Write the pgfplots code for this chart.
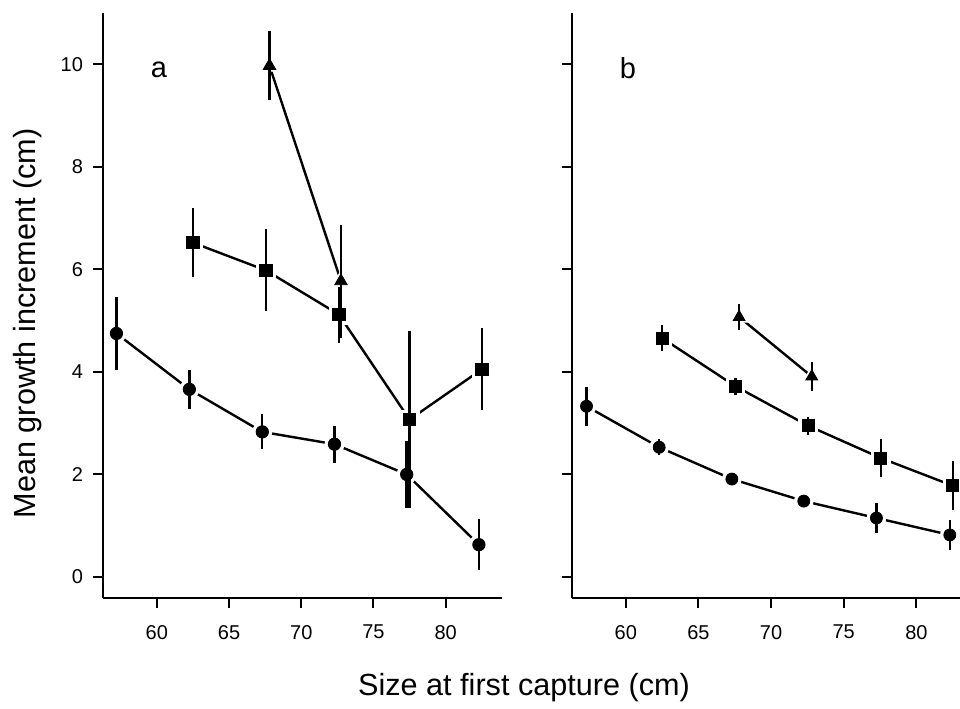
\documentclass[border=0pt]{standalone}
\usepackage{fontspec}
\setmainfont{Liberation Sans}
\usepackage{pgfplots}
\usepackage{pgfplotstable}
\pgfplotsset{compat=1.18}

% columns: size, mean increment, error
\pgfplotstableread{
x y e
57.2 4.75 0.72
62.25 3.66 0.38
67.3 2.83 0.34
72.3 2.59 0.36
77.3 2.00 0.65
82.3 0.63 0.50
}\acirc
\pgfplotstableread{
x y e
62.5 6.52 0.67
67.55 5.98 0.80
72.6 5.12 0.55
77.5 3.07 1.72
82.5 4.05 0.80
}\asq
\pgfplotstableread{
x y e
67.8 9.97 0.67
72.75 5.77 1.10
}\atri
\pgfplotstableread{
x y e
57.3 3.33 0.38
62.3 2.53 0.16
67.3 1.91 0.07
72.25 1.48 0.07
77.25 1.15 0.29
82.3 0.82 0.29
}\bcirc
\pgfplotstableread{
x y e
62.5 4.66 0.26
67.55 3.72 0.17
72.55 2.95 0.18
77.55 2.32 0.37
82.5 1.78 0.48
}\bsq
\pgfplotstableread{
x y e
67.8 5.07 0.25
72.8 3.91 0.29
}\btri

% line, white halo, then error bars and black marks
\newcommand{\series}[3]{%
  \addplot[black, line width=1.2pt, mark=none] table[x=x,y=y]{#1};
  \addplot[white, only marks, mark=#2, mark size=#3+1.7pt, mark options={fill=white, draw=white}] table[x=x,y=y]{#1};
  \addplot[black, only marks, mark=#2, mark size=#3, mark options={fill=black, draw=black, line width=0.4pt},
    error bars/.cd, y dir=both, y explicit, error mark=none,
    error bar style={line width=1.2pt, black}] table[x=x,y=y,y error=e]{#1};
}

\pgfplotsset{
  panel/.style={
    scale only axis, height=292.5pt,
    anchor=south west,
    axis x line*=bottom, axis y line*=left,
    axis line style={line width=1.2pt, -},
    tick align=outside, major tick length=5pt,
    tick style={line width=1pt, black},
    ymin=-0.41, ymax=11.0,
    ytick={0,2,4,6,8,10}, xtick={60,65,70,75,80},
    tick label style={font=\fontsize{10}{12}\selectfont},
    /pgf/number format/assume math mode=true,
    xticklabel style={yshift=-5pt},
    yticklabel style={xshift=-1.5pt},
    clip=false, clip mode=individual,
  }
}

\begin{document}
\begin{tikzpicture}
\useasboundingbox (0,0) rectangle (480pt,354pt);

\begin{axis}[panel, at={(51.5pt,55pt)}, width=199.5pt, xmin=56.27, xmax=83.9]
  \series{\acirc}{*}{3.1pt}
  \series{\asq}{square*}{3.1pt}
  \series{\atri}{triangle*}{3.6pt}
\end{axis}

\begin{axis}[panel, at={(286pt,55pt)}, width=194pt, xmin=56.3, xmax=83.0, yticklabels={}]
  \series{\bcirc}{*}{3.0pt}
  \series{\bsq}{square*}{3.0pt}
  \series{\btri}{triangle*}{3.4pt}
\end{axis}

\node[font=\fontsize{14.5}{16}\selectfont] at (79.5pt,319pt) {a};
\node[font=\fontsize{14.5}{16}\selectfont] at (314pt,320pt) {b};
\node[font=\fontsize{15.3}{17}\selectfont, rotate=90] at (14pt,192.3pt) {Mean growth increment (cm)};
\node[font=\fontsize{15.3}{17}\selectfont] at (262pt,10pt) {Size at first capture (cm)};
\end{tikzpicture}
\end{document}
